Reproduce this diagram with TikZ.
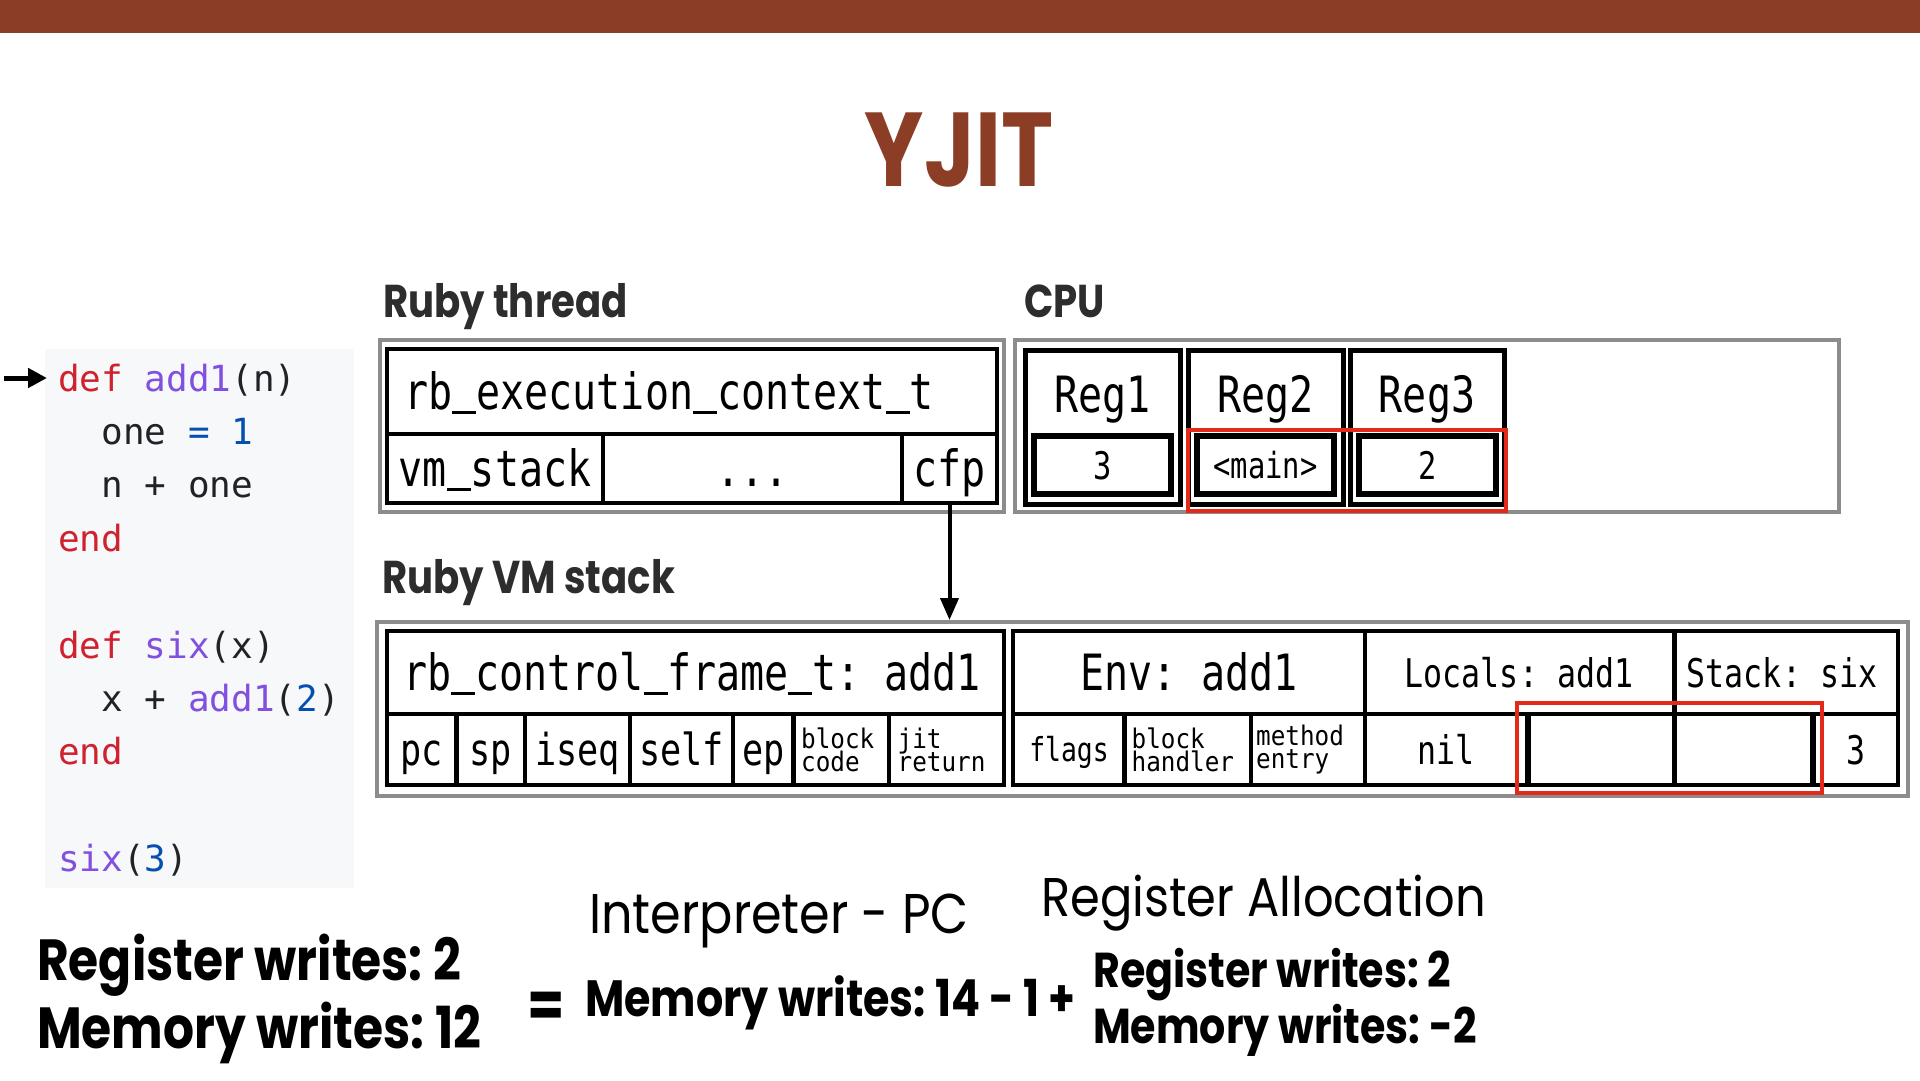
\documentclass[tikz,border=0pt]{standalone}
\usepackage{fontspec}
\setmainfont{Poppins}[FakeStretch=0.88,BoldFeatures={FakeStretch=0.84}]
\newfontfamily\boxfont{DejaVu Sans Mono}[FakeStretch=0.8]
\newfontfamily\smallboxfont{DejaVu Sans Mono}[FakeStretch=0.9]
\newfontfamily\codefont{DejaVu Sans Mono}
\usetikzlibrary{arrows.meta}
\definecolor{yjitbrown}{HTML}{8B3D26}
\definecolor{boxgray}{HTML}{8C8C8C}
\definecolor{hlred}{HTML}{E32A1A}
\definecolor{labelgray}{HTML}{2D2D2D}
\definecolor{codebg}{HTML}{F6F8FA}
\definecolor{cred}{HTML}{CF222E}
\definecolor{cpur}{HTML}{8250DF}
\definecolor{cblue}{HTML}{0550AE}
\definecolor{ctext}{HTML}{1F2328}
\frenchspacing
\newcommand\fsz[1]{\fontsize{#1}{#1}\selectfont}
\newcommand\bfsz[1]{\boxfont\fontsize{#1}{#1}\selectfont\frenchspacing}
\newcommand\twol{\smallboxfont\fontsize{27}{23}\selectfont\lineskiplimit=-100pt}
\newcommand\us{\hbox to 0.4816em{\vrule height -0.02em depth 0.085em width 0.4816em}}
\begin{document}
\begin{tikzpicture}[x=1pt,y=-1pt,
  graybox/.style={draw=boxgray,line width=4pt},
  blackbox/.style={draw=black,line width=4.5pt},
  regbox/.style={draw=black,line width=5pt},
  valbox/.style={draw=black,line width=6.5pt},
  redbox/.style={draw=hlred,line width=4pt},
  divider/.style={draw=black,line width=4.5pt},
  tA/.style={font=\bfsz{50},text height=36.5pt,text depth=0pt,inner sep=0pt},
  tB/.style={font=\bfsz{44},text height=32pt,text depth=0pt,inner sep=0pt},
  tC/.style={font=\bfsz{39.5},text height=29pt,text depth=0pt,inner sep=0pt},
  tV/.style={font=\bfsz{38},text height=28pt,text depth=0pt,inner sep=0pt},
  tD/.style={font=\bfsz{36},text height=26pt,text depth=0pt,inner sep=0pt},
  tF/.style={font=\bfsz{33},text height=24pt,text depth=0pt,inner sep=0pt},
  tTwo/.style={font=\twol,align=left,inner sep=0pt,anchor=west},
  codeline/.style={font=\codefont\fsz{36},text=ctext,anchor=base west,inner sep=0pt},
  seclabel/.style={font=\bfseries\fsz{46},text=labelgray,anchor=base west,inner sep=0pt},
  boldtxt/.style={font=\bfseries,text=black,anchor=base west,inner sep=0pt},
  lighttxt/.style={text=black,anchor=base west,inner sep=0pt},
  ptr/.style={line width=4pt,-{Triangle[length=22pt,width=18pt]}}
]
\useasboundingbox (0,0) rectangle (1920,1080);
\fill[white] (0,0) rectangle (1920,1080);
\fill[yjitbrown] (0,0) rectangle (1920,33);

% title
\node[font=\bfseries\fsz{105},text=yjitbrown,anchor=base,inner sep=0pt] (title) at (959,186) {YJIT};

% code block
\fill[codebg] (45,349) rectangle (354,888);
\node[codeline] (c1) at (58,391) {\textcolor{cred}{def} \textcolor{cpur}{add1}(n)};
\node[codeline] (c2) at (101.4,444.4) {one \textcolor{cblue}{= 1}};
\node[codeline] (c3) at (101.4,497.8) {n + one};
\node[codeline] (c4) at (58,551.2) {\textcolor{cred}{end}};
\node[codeline] (c5) at (58,658) {\textcolor{cred}{def} \textcolor{cpur}{six}(x)};
\node[codeline] (c6) at (101.4,711.4) {x + \textcolor{cpur}{add1}(\textcolor{cblue}{2})};
\node[codeline] (c7) at (58,764.8) {\textcolor{cred}{end}};
\node[codeline] (c8) at (58,871.6) {\textcolor{cpur}{six}(\textcolor{cblue}{3})};
\coordinate (codearrowtail) at (4,378);
\draw[line width=5pt,-{Triangle[length=19pt,width=19pt]}] (codearrowtail) -- (c1.west |- codearrowtail) [shorten >=11pt];

% section labels
\node[seclabel] (lblthread) at (383,317) {Ruby thread};
\node[seclabel] (lblcpu) at (1024,317) {CPU};
\node[seclabel] (lblvm) at (382,593) {Ruby VM stack};

% Ruby thread box
\draw[graybox] (380,340) rectangle (1004,512);
\draw[blackbox] (387,349) rectangle (997,503);
\draw[divider] (387,434) -- (997,434);
\draw[divider] (603,434) -- (603,503);
\draw[divider] (902,434) -- (902,503);
\node[tA,anchor=west] (ec) at (404,391.5) {rb\us execution\us context\us t};
\node[tA] (vmstack) at (495,468.5) {vm\us stack};
\node[tA] (dots) at (752.5,468.5) {...};
\node[tA,minimum width=95pt,minimum height=69pt] (cfp) at (949.5,468.5) {cfp};

% CPU box
\draw[graybox] (1015,340) rectangle (1839,512);
\draw[regbox] (1025,350) rectangle (1180,504);
\draw[regbox] (1188,350) rectangle (1343,504);
\draw[regbox] (1350,350) rectangle (1504,504);
\draw[valbox] (1034,436) rectangle (1171,494);
\draw[valbox] (1197,436) rectangle (1334,494);
\draw[valbox] (1359,436) rectangle (1496,494);
\node[tA] (reg1) at (1102.5,394) {Reg1};
\node[tA] (reg2) at (1265.5,394) {Reg2};
\node[tA] (reg3) at (1427,394) {Reg3};
\node[tV] (v1) at (1102.5,465) {3};
\node[tD] (v2) at (1265.5,465) {<main>};
\node[tV] (v3) at (1427.5,465) {2};
\draw[redbox] (1188,430) rectangle (1506,511);

% VM stack
\draw[graybox] (377,622) rectangle (1908,796);
\draw[blackbox] (387,631) rectangle (1004,785);
\draw[divider] (387,714) -- (1004,714);
\foreach \x in {456.4,525,630,733,793.5,889} \draw[divider] (\x,714) -- (\x,785);
\node[tA] (cf) at (692,672.5) {rb\us control\us frame\us t: add1};
\node[tB] (pc) at (421.7,749.5) {pc};
\node[tB] (sp) at (490.7,749.5) {sp};
\node[tB] (iseq) at (577.5,749.5) {iseq};
\node[tB] (self) at (681.5,749.5) {self};
\node[tB] (ep) at (763.3,749.5) {ep};
\node[tTwo] (blockcode) at (801,749.5) {block\\code};
\node[tTwo] (jitret) at (897.5,749.5) {jit\\return};

\draw[blackbox] (1013,631) rectangle (1898,785);
\draw[divider] (1013,714) -- (1898,714);
\draw[divider] (1365,631) -- (1365,785);
\draw[divider] (1674.5,631) -- (1674.5,785);
\foreach \x in {1124.5,1251} \draw[divider] (\x,714) -- (\x,785);
\foreach \x in {1528,1813} \draw[divider,line width=5.5pt] (\x,714) -- (\x,785);
\node[tA] (env) at (1189,672.5) {Env: add1};
\node[tC] (locals) at (1519,672.5) {Locals: add1};
\node[tC] (stack) at (1782,672.5) {Stack: six};
\node[tF] (flags) at (1069,749.5) {flags};
\node[tTwo] (bh) at (1131.5,749.5) {block\\handler};
\node[tTwo] (me) at (1256,749.5) {method\\entry};
\node[tC] (nil) at (1446,749.5) {nil};
\node[tC] (s3) at (1855.5,749.5) {3};
\draw[redbox] (1517,703) rectangle (1822,793);

% cfp pointer
\coordinate (vmtop) at (949.5,620);
\draw[ptr] (cfp.south) -- (vmtop);

% bottom formula
\node[boldtxt,font=\bfseries\fsz{58}] (regL) at (37,980) {Register writes: 2};
\node[boldtxt,font=\bfseries\fsz{58}] (memL) at (37,1048) {Memory writes: 12};
\node[boldtxt,font=\bfseries\fsz{64},anchor=base] (eq) at (546,1027) {=};
\node[lighttxt,font=\fsz{56}] (interp) at (589,933) {Interpreter - PC};
\node[boldtxt,font=\bfseries\fsz{51}] (memC) at (585,1016) {Memory writes: 14 - 1 +};
\node[lighttxt,font=\fsz{54.5}] (regalloc) at (1041,916) {Register Allocation};
\node[boldtxt,font=\bfseries\fsz{49}] (regR) at (1093,987) {Register writes: 2};
\node[boldtxt,font=\bfseries\fsz{49}] (memR) at (1093,1043) {Memory writes: -2};
\end{tikzpicture}
\end{document}
